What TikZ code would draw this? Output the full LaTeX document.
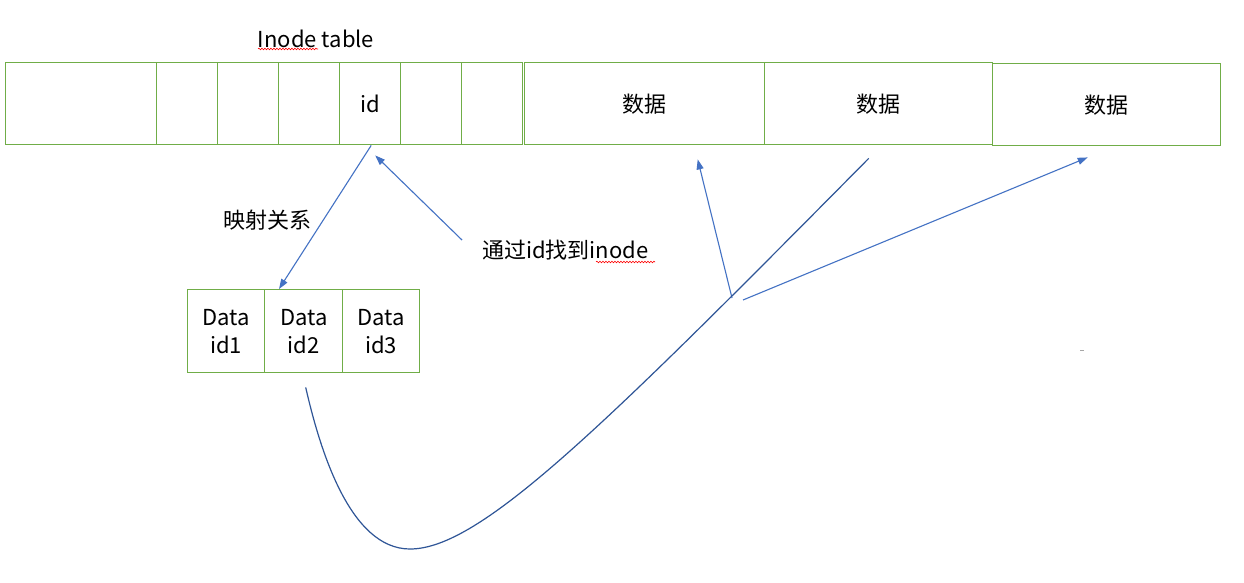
\documentclass[tikz,border=0pt]{standalone}
\usepackage{fontspec}
\setmainfont{Noto Sans CJK SC}
\usetikzlibrary{arrows.meta,decorations.pathmorphing,calc}
\definecolor{cellgreen}{HTML}{70AD47}
\definecolor{arrowblue}{HTML}{4472C4}
\definecolor{curveblue}{HTML}{2F5597}
\begin{document}
\begin{tikzpicture}[x=1pt,y=-1pt,
 cell/.style={draw=cellgreen,line width=1.4pt,inner sep=0pt,anchor=north west,font=\fontsize{22}{28}\selectfont,align=center},
 lbl/.style={inner sep=0pt,font=\fontsize{22}{28}\selectfont},
 arr/.style={draw=arrowblue,line width=1.1pt,-{Triangle[length=10pt,width=7pt]}},
 squig/.style={draw=red,line width=0.6pt,decorate,decoration={snake,amplitude=0.8pt,segment length=3pt}}]
\useasboundingbox[fill=white] (0,0) rectangle (1244,583);
% inode table cells
\node[cell,minimum width=151pt,minimum height=82pt] (c1) at (5,62) {};
\node[cell,minimum width=61pt,minimum height=82pt] (c2) at (156,62) {};
\node[cell,minimum width=61pt,minimum height=82pt] (c3) at (217,62) {};
\node[cell,minimum width=61pt,minimum height=82pt] (c4) at (278,62) {};
\node[cell,minimum width=61pt,minimum height=82pt] (idc) at (339,62) {id};
\node[cell,minimum width=61pt,minimum height=82pt] (c6) at (400,62) {};
\node[cell,minimum width=61pt,minimum height=82pt] (c7) at (461,62) {};
% data blocks
\node[cell,minimum width=240pt,minimum height=82pt] (D1) at (524,62) {数据};
\node[cell,minimum width=228pt,minimum height=82pt] (D2) at (764,62) {数据};
\node[cell,minimum width=228pt,minimum height=82pt] (D3) at (992,63) {数据};
% data id cells
\node[cell,minimum width=77pt,minimum height=83pt] (d1) at (187,289) {Data\\id1};
\node[cell,minimum width=78pt,minimum height=83pt] (d2) at (264,289) {Data\\id2};
\node[cell,minimum width=77pt,minimum height=83pt] (d3) at (342,289) {Data\\id3};
% labels
\node[lbl] (title) at (316,39) {Inode table};
\node[lbl] (map) at (267,220) {映射关系};
\node[lbl,anchor=west] (find) at (482,250) {通过id找到inode};
\draw[squig] (258,49) -- (318,49);
\draw[squig] (596,262) -- (655,262);
% arrows
\draw[arr] ([xshift=1pt]idc.south) -- ([xshift=15pt]d2.north west);
\draw[arr] ([shift={(-20,-10)}]find.west) -- ([shift={(5,10)}]idc.south);
\coordinate (p1) at (732,298);
\coordinate (p2) at (743,300);
\draw[arr] (p1) -- ([shift={(53,14)}]D1.south);
\draw[arr] (p2) -- ([shift={(-19,11)}]D3.south);
% curve
\draw[curveblue,line width=1.2pt] ([shift={(2,14)}]d2.south) .. controls (320,450) and (350,549) .. (410,549) .. controls (480,549) and (600,430) .. ([shift={(-10,13)}]D2.south);
\draw[gray!70,line width=1pt] (1080,350) -- (1084,350);
\end{tikzpicture}
\end{document}
